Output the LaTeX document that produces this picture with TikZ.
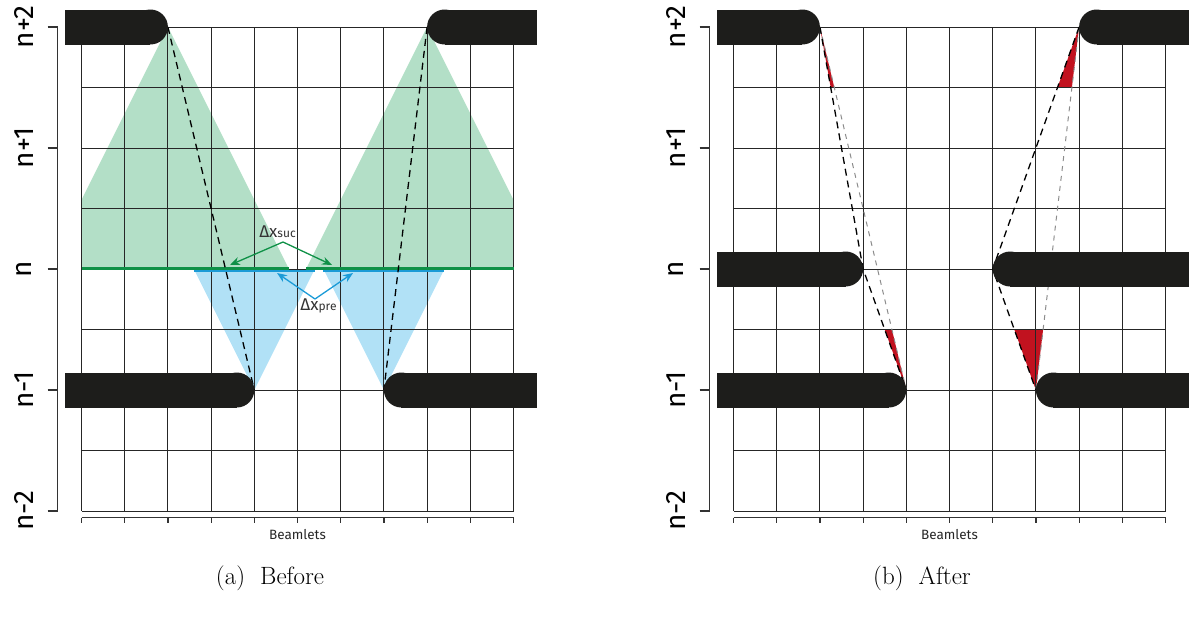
\documentclass[tikz,border=0pt]{standalone}
\usepackage{fontspec}
\newfontfamily\plotfont{Fira Sans}
\usetikzlibrary{arrows.meta,calc}

\definecolor{leaf}{HTML}{1D1D1B}
\definecolor{sucfill}{HTML}{B3DFC7}
\definecolor{sucline}{HTML}{0F9147}
\definecolor{prefill}{HTML}{B1E1F6}
\definecolor{preline}{HTML}{1B9BD7}
\definecolor{gapred}{HTML}{C1121F}

% láminas: extremo redondo a la derecha / a la izquierda
\newcommand{\leafR}[3]{%
  \fill[leaf] (#1,{#3-17.5}) rectangle ({#2-17.5},{#3+17.5});
  \fill[leaf] ({#2-17.5},#3) circle[radius=17.5pt];}
\newcommand{\leafL}[3]{%
  \fill[leaf] ({#1+17.5},{#3-17.5}) rectangle (#2,{#3+17.5});
  \fill[leaf] ({#1+17.5},#3) circle[radius=17.5pt];}

% rejilla y ejes de un panel
\newcommand{\ejes}[1]{%
  \foreach \i in {0,...,10} \draw[gridline] ({\i*43.2},27) -- ({\i*43.2},511);
  \foreach \j in {0,...,8} \draw[gridline] (0,{27+\j*60.5}) -- (432,{27+\j*60.5});
  \draw[axis] (-24,27) -- (-24,511);
  \foreach \lab [count=\k from 0] in {n+2,n+1,n,n-1,n-2} {
    \draw[axis] (-34,{27+\k*121}) -- (-24,{27+\k*121});
    \node[levellabel] (#1\k) at (-57.5,{27+\k*121}) {\lab};}
  \draw[axis] (0,517.5) -- (432,517.5);
  \foreach \i in {0,...,10} \draw[axis] ({\i*43.2},517.5) -- ({\i*43.2},523);
  \node[beamlabel] (#1beam) at (216,535) {Beamlets};}

\begin{document}
\begin{tikzpicture}[x=1pt, y=-1pt, >={Stealth[length=10pt,width=8pt]},
  gridline/.style={black!85, line width=1pt},
  axis/.style={black!80, line width=1.2pt},
  levellabel/.style={font=\plotfont\fontsize{28}{28}\selectfont, rotate=90, inner sep=0pt},
  beamlabel/.style={font=\plotfont\fontsize{13.5}{14}\selectfont, text=black!85, inner sep=0pt},
  gaplabel/.style={font=\plotfont\fontsize{17}{17}\selectfont, text=black!80, inner sep=0pt},
  beam/.style={black, dash pattern=on 7pt off 5pt, line width=1.3pt},
  oldbeam/.style={black!45, dash pattern=on 5pt off 5pt, line width=1pt},
  caption/.style={font=\fontsize{25}{30}\selectfont, inner sep=0pt}]
  \useasboundingbox (0,0) rectangle (1189,619);

  % (a) antes
  \begin{scope}[xshift=81.5pt]
    \coordinate (TL) at (86.4,27);
    \coordinate (TR) at (345.6,27);
    \coordinate (BL) at (172.8,390);
    \coordinate (BR) at (302.4,390);
    \begin{scope}
      \clip (0,0) rectangle (432,511);
      \fill[sucfill] (TL) -- (-34.6,269) -- (207.4,269) -- cycle;
      \fill[sucfill] (TR) -- (224.6,269) -- (466.6,269) -- cycle;
    \end{scope}
    \fill[prefill] (BL) -- (112.3,269) -- (233.3,269) -- cycle;
    \fill[prefill] (BR) -- (241.9,269) -- (362.9,269) -- cycle;
    \ejes{a}
    \draw[preline, line width=2pt] (112.3,270.5) -- (233.3,270.5) (241.9,270.5) -- (362.9,270.5);
    \draw[sucline, line width=2.2pt] (0,268.5) -- (207.4,268.5) (224.6,268.5) -- (432,268.5);
    \draw[beam] (TL) -- (BL);
    \draw[beam] (TR) -- (BR);
    % distancias
    \coordinate (sucV) at (201.5,242);
    \coordinate (sucL) at (148.5,265);
    \coordinate (sucR) at (250.5,265);
    \draw[->, sucline, line width=1.3pt] (sucV) -- (sucL);
    \draw[->, sucline, line width=1.3pt] (sucV) -- (sucR);
    \node[gaplabel] (suc) at (196,232) {Δx{\fontsize{12}{12}\selectfont suc}};
    \coordinate (preV) at (233.5,299);
    \coordinate (preL) at (195.5,273);
    \coordinate (preR) at (271.5,273);
    \draw[->, preline, line width=1.3pt] (preV) -- (preL);
    \draw[->, preline, line width=1.3pt] (preV) -- (preR);
    \node[gaplabel] (pre) at (237,306) {Δx{\fontsize{12}{12}\selectfont pre}};
    \leafR{-16.5}{86.4}{27}
    \leafL{345.6}{455}{27}
    \leafR{-16.5}{172.8}{390}
    \leafL{302.4}{455}{390}
    \node[caption] (capA) at (188.5,578) {(a)\hspace{0.6em}Before};
  \end{scope}

  % (b) después
  \begin{scope}[xshift=733.5pt]
    \coordinate (TL) at (86.4,27);
    \coordinate (ML) at (129.6,269);
    \coordinate (BL) at (172.8,390);
    \coordinate (TR) at (345.6,27);
    \coordinate (MR) at (259.2,269);
    \coordinate (BR) at (302.4,390);
    \fill[gapred] (TL) -- ($(TL)!0.25!(ML)$) -- ($(TL)!0.1667!(BL)$) -- cycle;
    \fill[gapred] (BL) -- ($(ML)!0.5!(BL)$) -- ($(TL)!0.8333!(BL)$) -- cycle;
    \fill[gapred] (TR) -- ($(TR)!0.25!(MR)$) -- ($(TR)!0.1667!(BR)$) -- cycle;
    \fill[gapred] (BR) -- ($(MR)!0.5!(BR)$) -- ($(TR)!0.8333!(BR)$) -- cycle;
    \ejes{b}
    \draw[oldbeam] (TL) -- (BL);
    \draw[oldbeam] (TR) -- (BR);
    \draw[beam] (TL) -- (ML) -- (BL);
    \draw[beam] (TR) -- (MR) -- (BR);
    \leafR{-16.5}{86.4}{27}
    \leafL{345.6}{455.5}{27}
    \leafR{-16.5}{129.6}{269}
    \leafL{259.2}{455.5}{269}
    \leafR{-16.5}{172.8}{390}
    \leafL{302.4}{455.5}{390}
    \node[caption] (capB) at (188.5,578) {(b)\hspace{0.6em}After};
  \end{scope}
\end{tikzpicture}
\end{document}
